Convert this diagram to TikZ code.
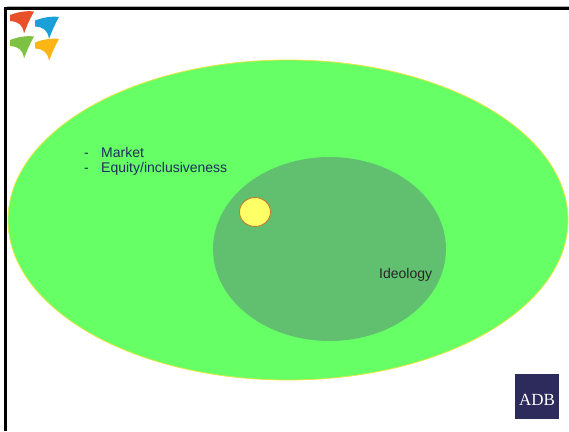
\documentclass[tikz,border=0pt]{standalone}
\usepackage{fontspec}
\setmainfont{Liberation Sans}
\newfontfamily\adbfont{Liberation Serif}
\usetikzlibrary{shapes.geometric}
\definecolor{outergreen}{HTML}{66FF66}
\definecolor{innergreen}{HTML}{60C070}
\definecolor{outerline}{HTML}{E6E640}
\definecolor{sunfill}{HTML}{FFFF66}
\definecolor{sunline}{HTML}{C08030}
\definecolor{navytext}{HTML}{1F2D5C}
\definecolor{adbnavy}{HTML}{2C2B5C}
\definecolor{swred}{HTML}{E8502A}
\definecolor{swblue}{HTML}{1AA0D8}
\definecolor{swgreen}{HTML}{7DC242}
\definecolor{sworange}{HTML}{FDB515}
\tikzset{
  txt/.style={font=\fontsize{14}{16}\selectfont, inner sep=0pt},
  swoosh/.pic={
    \fill (0,-0.5) .. controls (8,-3.5) and (16,-5) .. (24,-4)
      .. controls (20,3) and (17,10) .. (14,18)
      .. controls (13,10) and (9,6) .. (0,5.5) -- cycle;
  }
}
\begin{document}
\begin{tikzpicture}[x=1pt,y=-1pt]
\useasboundingbox (0,0) rectangle (569,431);
\fill[white] (0,0) rectangle (569,431);
% frame
\draw[line width=3pt, black] (5.5,431) -- (5.5,8.5) -- (569,8.5);
\draw[line width=1pt, gray!60] (7,6.5) -- (569,6.5);
% logo
\pic[swred] at (10,15.5) {swoosh};
\pic[swblue] at (35,21) {swoosh};
\pic[swgreen] at (10,40.5) {swoosh};
\pic[sworange] at (35,43) {swoosh};
% ellipses
\node[ellipse, draw=outerline, line width=0.8pt, fill=outergreen,
      minimum width=560pt, minimum height=320pt, inner sep=0pt] (outer) at (288,220) {};
\node[ellipse, fill=innergreen, minimum width=233pt, minimum height=184pt,
      inner sep=0pt] (inner) at (329.5,249) {};
\node[ellipse, draw=sunline, line width=0.9pt, fill=sunfill,
      minimum width=31pt, minimum height=29pt, inner sep=0pt] (sun) at (255,212) {};
% texts
\node[txt, text=navytext, anchor=base west] (d1) at (84,157) {-};
\node[txt, text=navytext, anchor=base west] (market) at (101,157) {Market};
\node[txt, text=navytext, anchor=base west] (d2) at (84,172.5) {-};
\node[txt, text=navytext, anchor=base west] (equity) at (101,172.5) {Equity/inclusiveness};
\node[txt, text=black!85, anchor=base west] (ideology) at (379,278) {Ideology};
% ADB logo
\node[fill=adbnavy, minimum width=44pt, minimum height=45pt, inner sep=0pt] (adbbox) at (537,396.5) {};
\node[font=\adbfont\fontsize{17}{18}\selectfont, text=white, inner sep=0pt, anchor=base] (adb) at (537,405) {ADB};
\end{tikzpicture}
\end{document}
